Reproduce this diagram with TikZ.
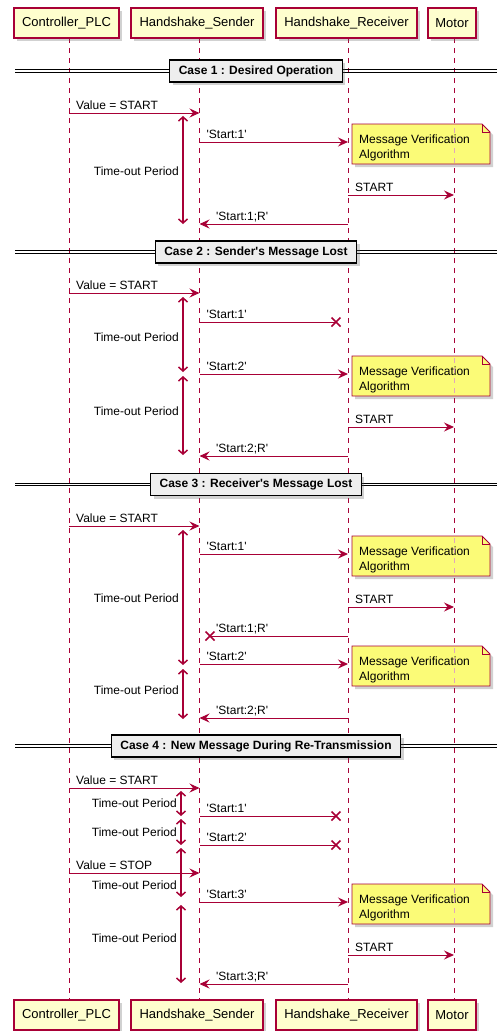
\documentclass[tikz,border=0pt]{standalone}
\usepackage{fontspec}
\setmainfont{Liberation Sans}
\usetikzlibrary{arrows.meta,shadows,calc}
\definecolor{pred}{HTML}{A80036}
\definecolor{pfill}{HTML}{FEFECE}
\definecolor{nfill}{HTML}{FBFB77}
\definecolor{dfill}{HTML}{EEEEEE}
\newcommand\q{\textquotesingle}
\tikzset{
 shad/.style={drop shadow={shadow xshift=3pt,shadow yshift=-3pt,opacity=0.3,fill=black!60}},
 part/.style={draw=pred, fill=pfill, line width=1.4pt, minimum height=30pt, inner sep=0pt, font=\fontsize{13}{15}\selectfont, shad},
 life/.style={draw=pred, line width=0.8pt, dash pattern=on 5pt off 5pt},
 msg/.style={draw=pred, line width=1pt, -{Stealth[length=10pt,width=9pt,inset=3.5pt]}},
 msgl/.style={draw=pred, line width=1pt},
 xmark/.style={draw=pred, line width=1.6pt},
 lbl/.style={inner sep=0pt, font=\fontsize{12}{14}\selectfont, text=black},
 tout/.style={draw=pred, line width=1.5pt, {Straight Barb[length=4pt,width=9pt]}-{Straight Barb[length=4pt,width=9pt]}},
 divline/.style={draw=black, line width=0.9pt},
 divbox/.style={draw=black, fill=dfill, line width=1.2pt, minimum height=22pt, inner xsep=9pt, inner ysep=0pt, font=\bfseries\fontsize{12}{14}\selectfont, shad},
 notebox/.style={draw=pred, fill=nfill, line width=0.9pt, shad},
 notetxt/.style={inner sep=0pt, font=\fontsize{12}{14}\selectfont},
}
% message to the right: name, x1, x2, y, label
\newcommand\MsgR[5]{%
 \coordinate (#1a) at (#2,#4); \coordinate (#1b) at (#3,#4);
 \draw[msg] (#1a) -- (#1b);
 \node[lbl,anchor=base west] (#1t) at (#2+7,#4-4) {#5};}
% message to the left: name, x1, x2, y, label
\newcommand\MsgL[5]{%
 \coordinate (#1a) at (#2,#4); \coordinate (#1b) at (#3,#4);
 \draw[msg] (#1a) -- (#1b);
 \node[lbl,anchor=base west] (#1t) at (#3+16.5,#4-4) {#5};}
% lost message: name, x1, xX, y, label, label x
\newcommand\MsgLost[6]{%
 \coordinate (#1a) at (#2,#4); \coordinate (#1b) at (#3,#4);
 \draw[msgl] (#1a) -- (#1b);
 \draw[xmark] ($(#1b)+(-4.5,-4.5)$) -- ($(#1b)+(4.5,4.5)$) ($(#1b)+(-4.5,4.5)$) -- ($(#1b)+(4.5,-4.5)$);
 \node[lbl,anchor=base west] (#1t) at (#6,#4-4) {#5};}
% time-out: name, x, y1, y2, label y
\newcommand\Tout[5]{%
 \coordinate (#1a) at (#2,#3); \coordinate (#1b) at (#2,#4);
 \draw[tout] (#1a) -- (#1b);
 \node[lbl,anchor=base east] (#1t) at (#2-4,#5+4) {Time-out Period};}
% note: name, y
\newcommand\NoteBox[2]{%
 \path[notebox] (352,#2-18) -- (482,#2-18) -- (490,#2-10) -- (490,#2+22) -- (352,#2+22) -- cycle;
 \draw[pred, line width=0.9pt] (482,#2-18) -- (482,#2-10) -- (490,#2-10);
 \node[notetxt,anchor=base west] (#1a) at (359,#2+1.5) {Message Verification};
 \node[notetxt,anchor=base west] (#1b) at (359,#2+16) {Algorithm};}
% divider: name, y, text
\newcommand\Divider[3]{%
 \draw[divline] (15,#2-1.3) -- (497,#2-1.3) (15,#2+1.3) -- (497,#2+1.3);
 \node[divbox] (#1) at (256,#2) {#3};}

\begin{document}
\begin{tikzpicture}[x=1pt,y=-1pt]
\useasboundingbox (0,0) rectangle (497,1031);
% lifelines
\coordinate (plcTop) at (69,38);   \coordinate (plcBot) at (69,1000);
\coordinate (sndTop) at (199.5,38); \coordinate (sndBot) at (199.5,1000);
\coordinate (rcvTop) at (348,38);  \coordinate (rcvBot) at (348,1000);
\coordinate (motTop) at (454,38);  \coordinate (motBot) at (454,1000);
\draw[life] (plcTop) -- (plcBot);
\draw[life] (sndTop) -- (sndBot);
\draw[life] (rcvTop) -- (rcvBot);
\draw[life] (motTop) -- (motBot);
% participants
\node[part, minimum width=105pt] (plcT) at (66.5,23) {Controller\_PLC};
\node[part, minimum width=132pt] (sndT) at (197,23) {Handshake\_Sender};
\node[part, minimum width=141pt] (rcvT) at (346.5,23) {Handshake\_Receiver};
\node[part, minimum width=48pt] (motT) at (452,23) {Motor};
\node[part, minimum width=105pt] (plcB) at (66.5,1015) {Controller\_PLC};
\node[part, minimum width=132pt] (sndB) at (197,1015) {Handshake\_Sender};
\node[part, minimum width=141pt] (rcvB) at (346.5,1015) {Handshake\_Receiver};
\node[part, minimum width=48pt] (motB) at (452,1015) {Motor};

% Case 1
\Divider{div1}{71}{Case 1 : Desired Operation}
\MsgR{a1}{69}{199.5}{113}{Value = START}
\Tout{t1}{183}{116}{224}{171}
\MsgR{a2}{199.5}{348}{142}{\q Start:1\q}
\NoteBox{n1}{142}
\MsgR{a3}{348}{454}{195}{START}
\MsgL{a4}{348}{199.5}{224}{\q Start:1;R\q}

% Case 2
\Divider{div2}{252}{Case 2 : Sender\q s Message Lost}
\MsgR{b1}{69}{199.5}{293}{Value = START}
\MsgLost{b2}{199.5}{336}{322}{\q Start:1\q}{206.5}
\Tout{t2}{183}{297}{372}{337}
\MsgR{b3}{199.5}{348}{374}{\q Start:2\q}
\NoteBox{n2}{374}
\Tout{t3}{183}{376}{455}{411}
\MsgR{b4}{348}{454}{427}{START}
\MsgL{b5}{348}{199.5}{456}{\q Start:2;R\q}

% Case 3
\Divider{div3}{484.5}{Case 3 : Receiver\q s Message Lost}
\MsgR{c1}{69}{199.5}{526}{Value = START}
\MsgR{c2}{199.5}{348}{554}{\q Start:1\q}
\NoteBox{n3}{554}
\Tout{t4}{183}{530}{665}{598}
\MsgR{c3}{348}{454}{607}{START}
\MsgLost{c4}{348}{210}{636}{\q Start:1;R\q}{216}
\MsgR{c5}{199.5}{348}{664}{\q Start:2\q}
\NoteBox{n4}{664}
\Tout{t5}{183}{669}{719}{690}
\MsgL{c6}{348}{199.5}{718}{\q Start:2;R\q}

% Case 4
\Divider{div4}{746}{Case 4 : New Message During Re-Transmission}
\MsgR{d1}{69}{199.5}{788}{Value = START}
\Tout{t6}{181}{791}{816}{803}
\MsgLost{d2}{199.5}{336}{816}{\q Start:1\q}{206.5}
\Tout{t7}{181}{819}{845}{832}
\MsgLost{d3}{199.5}{336}{845}{\q Start:2\q}{206.5}
\Tout{t8}{181}{848}{897}{885}
\MsgR{d4}{69}{199.5}{873}{Value = STOP}
\MsgR{d5}{199.5}{348}{902}{\q Start:3\q}
\NoteBox{n5}{902}
\Tout{t9}{181}{905}{983}{938}
\MsgR{d6}{348}{454}{955}{START}
\MsgL{d7}{348}{199.5}{984}{\q Start:3;R\q}

% motor lifeline faintly visible through notes
\begin{scope}
\clip (352,124) rectangle (490,164) (352,356) rectangle (490,396)
      (352,536) rectangle (490,576) (352,646) rectangle (490,686)
      (352,884) rectangle (490,924);
\draw[life, draw=pred!35] (motTop) -- (motBot);
\end{scope}
\end{tikzpicture}
\end{document}
